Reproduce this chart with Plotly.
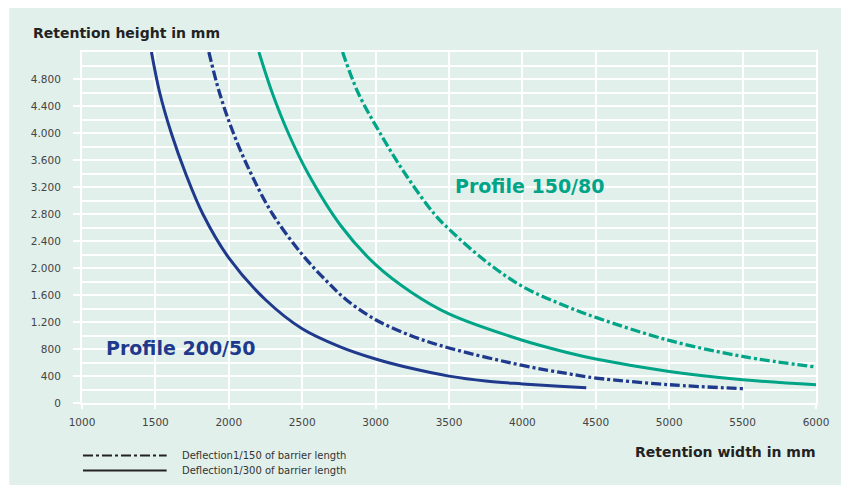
import plotly.graph_objects as go

# ---- data ----
# Profile 200/50, deflection 1/300 (solid, dark blue)
p200_300_x = [1473, 1529, 1608, 1706, 1823, 2000, 2250, 2500, 2750, 3000, 3250, 3500, 3750, 4000, 4250, 4435]
p200_300_y = [5200, 4600, 4000, 3400, 2800, 2150, 1530, 1100, 840, 652, 510, 398, 325, 283, 248, 225]
# Profile 200/50, deflection 1/150 (dash-dot, dark blue)
p200_150_x = [1864, 1936, 2031, 2151, 2298, 2500, 2669, 2800, 3000, 3250, 3500, 4000, 4311, 4500, 5000, 5503]
p200_150_y = [5200, 4600, 4000, 3400, 2800, 2200, 1800, 1530, 1234, 990, 815, 557, 434, 370, 271, 212]
# Profile 150/80, deflection 1/300 (solid, teal)
p150_300_x = [2205, 2295, 2405, 2540, 2762, 3000, 3250, 3500, 4000, 4311, 4500, 5000, 5500, 6000]
p150_300_y = [5200, 4600, 4000, 3400, 2630, 2049, 1630, 1320, 930, 745, 652, 468, 345, 271]
# Profile 150/80, deflection 1/150 (dash-dot, teal)
p150_150_x = [2775, 2880, 3030, 3200, 3400, 3500, 3750, 4000, 4311, 4500, 5000, 5500, 6000]
p150_150_y = [5200, 4600, 4000, 3400, 2800, 2575, 2100, 1727, 1422, 1268, 927, 690, 533]

x_ticks = [1000, 1500, 2000, 2500, 3000, 3500, 4000, 4500, 5000, 5500, 6000]
y_ticks = [0, 400, 800, 1200, 1600, 2000, 2400, 2800, 3200, 3600, 4000, 4400, 4800]
y_tick_text = ["0", "400", "800", "1.200", "1.600", "2.000", "2.400", "2.800",
               "3.200", "3.600", "4.000", "4.400", "4.800"]

legend_labels = ["Deflection1/150 of barrier length", "Deflection1/300 of barrier length"]
profile_labels = ["Profile 150/80", "Profile 200/50"]

BLUE = "#1f3a8c"
TEAL = "#00a487"
BG = "#e2f0eb"
FONT = "DejaVu Sans"
DASHDOT = "10px,3px,3px,3px"

fig = go.Figure()
fig.add_trace(go.Scatter(x=p200_300_x, y=p200_300_y, mode="lines", line_shape="spline",
                         line=dict(color=BLUE, width=3)))
fig.add_trace(go.Scatter(x=p200_150_x, y=p200_150_y, mode="lines", line_shape="spline",
                         line=dict(color=BLUE, width=3.3, dash=DASHDOT)))
fig.add_trace(go.Scatter(x=p150_300_x, y=p150_300_y, mode="lines", line_shape="spline",
                         line=dict(color=TEAL, width=3)))
fig.add_trace(go.Scatter(x=p150_150_x, y=p150_150_y, mode="lines", line_shape="spline",
                         line=dict(color=TEAL, width=3.3, dash=DASHDOT)))

W, H = 841, 485
ML, MR, MT, MB = 82, 22, 52, 82
PW, PH = W - ML - MR, H - MT - MB

def px_x(p):  # screen pixel -> paper x
    return (p - ML) / PW

def px_y(p):  # screen pixel -> paper y
    return (H - MB - p) / PH

fig.update_layout(
    width=W, height=H,
    margin=dict(l=ML, r=MR, t=MT, b=MB, pad=0),
    paper_bgcolor="white",
    plot_bgcolor=BG,
    showlegend=False,
    hovermode=False,
    font=dict(family=FONT, color="#444444", size=10.5),
    xaxis=dict(range=[1000, 6000], tickvals=x_ticks, ticktext=[str(v) for v in x_ticks],
               showgrid=True, gridcolor="white", gridwidth=2,
               showline=True, linecolor="white", linewidth=2, mirror=True,
               ticks="outside", ticklen=4, tickwidth=2, tickcolor="white",
               ticklabelstandoff=4, zeroline=False,
               tickfont=dict(family=FONT, size=10.5, color="#444444")),
    yaxis=dict(range=[0, 5200], tickvals=y_ticks, ticktext=y_tick_text,
               showgrid=True, gridcolor="white", gridwidth=2,
               minor=dict(dtick=200, tick0=0, showgrid=True, gridcolor="white", gridwidth=2, ticks=""),
               showline=True, linecolor="white", linewidth=2, mirror=True,
               ticks="outside", ticklen=7, tickwidth=2, tickcolor="white",
               ticklabelstandoff=10, zeroline=False,
               tickfont=dict(family=FONT, size=10.5, color="#444444")),
    shapes=[
        dict(type="rect", xref="paper", yref="paper", layer="below",
             x0=px_x(9), x1=px_x(W + 5), y0=px_y(H + 5), y1=px_y(8),
             fillcolor=BG, line=dict(width=0)),
        dict(type="line", xref="paper", yref="paper",
             x0=px_x(83), x1=px_x(167), y0=px_y(455.5), y1=px_y(455.5),
             line=dict(color="#222222", width=2, dash=DASHDOT)),
        dict(type="line", xref="paper", yref="paper",
             x0=px_x(83), x1=px_x(167), y0=px_y(470.5), y1=px_y(470.5),
             line=dict(color="#222222", width=2)),
    ],
    annotations=[
        dict(text="<b>Retention height in mm</b>", xref="paper", yref="paper",
             x=px_x(31), y=px_y(33), xanchor="left", yanchor="middle", showarrow=False,
             font=dict(family=FONT, size=14, color="#222222")),
        dict(text="<b>Retention width in mm</b>", xref="paper", yref="paper",
             x=px_x(820), y=px_y(452), xanchor="right", yanchor="middle", showarrow=False,
             font=dict(family=FONT, size=14, color="#222222")),
        dict(text=legend_labels[0], xref="paper", yref="paper",
             x=px_x(180), y=px_y(455.5), xanchor="left", yanchor="middle", showarrow=False,
             font=dict(family=FONT, size=10, color="#333333")),
        dict(text=legend_labels[1], xref="paper", yref="paper",
             x=px_x(180), y=px_y(470.5), xanchor="left", yanchor="middle", showarrow=False,
             font=dict(family=FONT, size=10, color="#333333")),
        dict(text="<b>" + profile_labels[0] + "</b>", xref="x", yref="y",
             x=3525, y=3209, xanchor="left", yanchor="middle", showarrow=False,
             font=dict(family=FONT, size=19, color=TEAL)),
        dict(text="<b>" + profile_labels[1] + "</b>", xref="x", yref="y",
             x=1150, y=815, xanchor="left", yanchor="middle", showarrow=False,
             font=dict(family=FONT, size=19, color=BLUE)),
    ],
)

# remove the default 8px page margin so the 841x485 figure fills the window exactly
fig.write_html(
    "out.html",
    config={"displayModeBar": False},
    post_script="document.documentElement.style.overflow='hidden';"
                "document.body.style.margin='0';document.body.style.overflow='hidden';",
)
